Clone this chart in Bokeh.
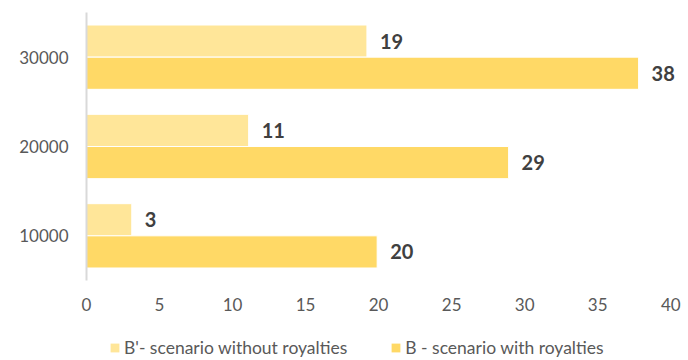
from bokeh.plotting import figure
from bokeh.layouts import column
from bokeh.core.properties import value
from bokeh.models import ColumnDataSource, Range1d, FactorRange, Legend, LegendItem, FixedTicker, LabelSet
from bokeh.transform import dodge
from bokeh.embed import file_html
from bokeh.resources import INLINE

categories = ["10000", "20000", "30000"]
without_royalties = [3.1, 11.1, 19.2]
with_royalties = [19.9, 28.9, 37.8]
x_ticks = [0, 5, 10, 15, 20, 25, 30, 35, 40]
series_names = ["B'- scenario without royalties", "B - scenario with royalties"]

FONT = "Lato"
LIGHT = "#FFE699"
DARK = "#FFD966"
TXT = "#595959"

src = ColumnDataSource(dict(
    cat=categories,
    wo=without_royalties,
    w=with_royalties,
    wo_lbl=[str(round(v)) for v in without_royalties],
    w_lbl=[str(round(v)) for v in with_royalties],
))

p = figure(frame_width=593, frame_height=268, y_range=FactorRange(*categories), x_range=Range1d(0, 40.6),
           output_backend="svg", toolbar_location=None)
p.min_border_left = 86
p.min_border_right = 2
p.min_border_top = 12
p.min_border_bottom = 37
p.outline_line_color = None
p.xgrid.grid_line_color = None
p.ygrid.grid_line_color = None
p.background_fill_color = "white"
p.border_fill_color = "white"

r1 = p.hbar(y=dodge("cat", 0.18, range=p.y_range), right="wo", left=0, height=0.36, source=src,
            fill_color=LIGHT, line_color="white", line_width=1)
r2 = p.hbar(y=dodge("cat", -0.18, range=p.y_range), right="w", left=0, height=0.36, source=src,
            fill_color=DARK, line_color="white", line_width=1)

for xcol, lcol, off in (("wo", "wo_lbl", 0.18), ("w", "w_lbl", -0.18)):
    ls = LabelSet(x=xcol, y=dodge("cat", off, range=p.y_range), text=lcol, source=src,
                  x_offset=13, text_baseline="middle", text_align="left",
                  text_font=value(FONT), text_font_style="bold", text_font_size="20px",
                  text_color="#404040")
    p.add_layout(ls)

p.xaxis.ticker = FixedTicker(ticks=x_ticks)
p.xaxis.axis_line_color = None
p.xaxis.major_tick_line_color = None
p.xaxis.minor_tick_line_color = None
p.xaxis.major_tick_out = 0
p.xaxis.major_tick_in = 0
p.xaxis.major_label_standoff = 17
p.xaxis.major_label_text_font = FONT
p.xaxis.major_label_text_font_size = "17px"
p.xaxis.major_label_text_color = TXT

p.yaxis.axis_line_color = "#D9D9D9"
p.yaxis.axis_line_width = 2
p.yaxis.major_tick_line_color = None
p.yaxis.minor_tick_line_color = None
p.yaxis.major_tick_out = 0
p.yaxis.major_tick_in = 0
p.yaxis.major_label_standoff = 18
p.yaxis.major_label_text_font = FONT
p.yaxis.major_label_text_font_size = "17px"
p.yaxis.major_label_text_color = TXT

# legend strip below the chart (proxy renderers share the chart data but stay hidden)
lg = figure(width=681, height=42, x_range=Range1d(0, 40.6), y_range=FactorRange(*categories),
            x_axis_type=None, y_axis_type=None, output_backend="svg", toolbar_location=None)
lg.min_border_left = 86
lg.min_border_right = 2
lg.min_border_top = 0
lg.min_border_bottom = 0
lg.outline_line_color = None
lg.xgrid.grid_line_color = None
lg.ygrid.grid_line_color = None
e1 = lg.hbar(y="cat", right="wo", left=0, height=0.36, source=src, fill_color=LIGHT, line_color=None)
e2 = lg.hbar(y="cat", right="w", left=0, height=0.36, source=src, fill_color=DARK, line_color=None)
e1.visible = False
e2.visible = False
legend = Legend(items=[LegendItem(label=series_names[0], renderers=[e1]),
                       LegendItem(label=series_names[1], renderers=[e2])],
                orientation="horizontal", location=(23, 1),
                label_text_font=FONT, label_text_font_size="17.5px", label_text_color=TXT,
                glyph_width=11, glyph_height=11, spacing=43, label_standoff=4,
                inactive_fill_alpha=0,
                border_line_color=None, background_fill_alpha=0, padding=0, margin=0)
lg.add_layout(legend, "center")

layout = column(p, lg, spacing=0)
open("out.html", "w").write(file_html(layout, INLINE))
